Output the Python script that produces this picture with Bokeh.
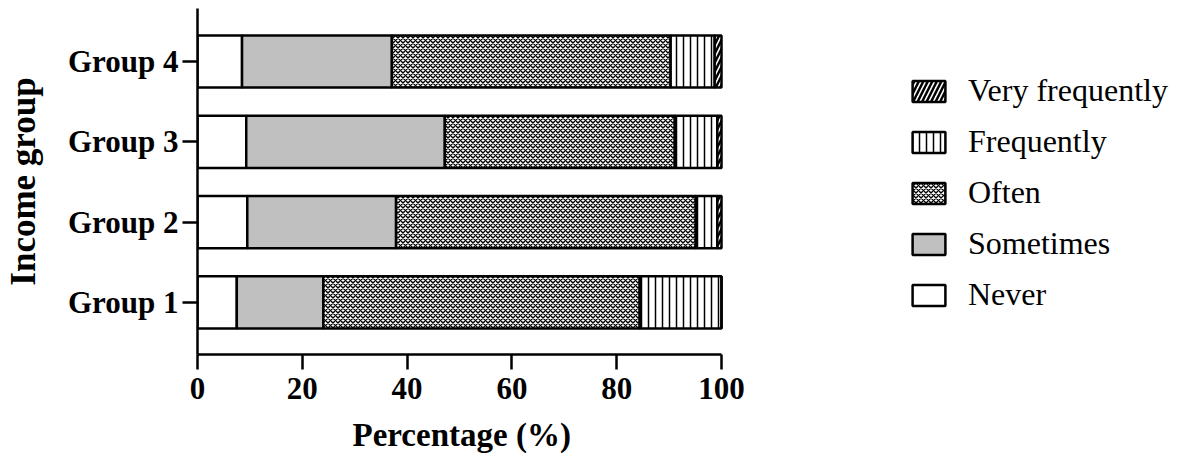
from bokeh.plotting import figure
from bokeh.models import Range1d, FixedTicker, Legend, LegendItem, Title
from bokeh.embed import file_html
from bokeh.resources import INLINE

groups = ["Group 1", "Group 2", "Group 3", "Group 4"]
categories = ["Never", "Sometimes", "Often", "Frequently", "Very frequently"]
never = [7.5, 9.5, 9.3, 8.5]
sometimes = [16.5, 28.4, 37.9, 28.6]
often = [60.4, 57.2, 43.9, 53.2]
frequently = [15.6, 4.1, 8.1, 8.4]
very_frequently = [0.0, 0.8, 0.8, 1.3]
x_ticks = [0, 20, 40, 60, 80, 100]

series = [never, sometimes, often, frequently, very_frequently]

FONT = "Liberation Serif"

FRAME_W = 973
PX_PER_UNIT = 5.24

p = figure(frame_width=FRAME_W, frame_height=346, output_backend="svg", toolbar_location=None,
           x_range=Range1d(0, FRAME_W / PX_PER_UNIT), y_range=Range1d(0.352, 4.66),
           min_border_left=192, min_border_right=0, min_border_top=8, min_border_bottom=4)

styles = {
    "Never": dict(fill_color="white"),
    "Sometimes": dict(fill_color="#c0c0c0"),
    "Often": dict(fill_color="white", hatch_pattern="diagonal_cross", hatch_color="black",
                  hatch_scale=5, hatch_weight=1.4),
    "Frequently": dict(fill_color="white", hatch_pattern="vertical_line", hatch_color="black",
                       hatch_scale=7, hatch_weight=1.5),
    "Very frequently": dict(fill_color="white", hatch_pattern="right_diagonal_line", hatch_color="black",
                            hatch_scale=9, hatch_weight=2.5),
}

ypos = [i + 1 for i in range(len(groups))]
left = [0.0] * len(groups)
renderers = {}
for name, vals in zip(categories, series):
    right = [l + v for l, v in zip(left, vals)]
    r = p.hbar(y=ypos, left=left, right=right, height=0.65, line_color="black", line_width=2.5,
               **styles[name])
    renderers[name] = r
    left = right

items = [LegendItem(label=name, renderers=[renderers[name]]) for name in reversed(categories)]
legend = Legend(items=items, location=(711, 41), margin=0, padding=0,
                border_line_color=None, background_fill_alpha=0,
                glyph_width=41, glyph_height=26, label_height=26, spacing=14, label_standoff=19,
                label_text_font=FONT, label_text_font_size="32px", label_text_color="black")
p.add_layout(legend, "center")

p.xgrid.visible = False
p.ygrid.visible = False
p.outline_line_color = None

xa = p.xaxis[0]
xa.ticker = FixedTicker(ticks=x_ticks)
xa.bounds = (0, 100)
ya = p.yaxis[0]
ya.ticker = FixedTicker(ticks=ypos)
ya.major_label_overrides = {y: g for y, g in zip(ypos, groups)}
ya.axis_label = "Income group"

for ax in (xa, ya):
    ax.axis_line_width = 2.5
    ax.axis_line_color = "black"
    ax.major_tick_line_width = 2.5
    ax.major_tick_line_color = "black"
    ax.major_tick_out = 15
    ax.major_tick_in = 0
    ax.minor_tick_line_color = None
    ax.major_label_text_font = FONT
    ax.major_label_text_font_style = "bold"
    ax.major_label_text_font_size = "31px"
    ax.major_label_text_color = "black"
    ax.axis_label_text_font = FONT
    ax.axis_label_text_font_style = "bold"
    ax.axis_label_text_color = "black"

ya.axis_label_text_font_size = "35px"
xa.major_label_standoff = 8
ya.major_label_standoff = 4
ya.axis_label_standoff = 22

xtitle = Title(text="Percentage (%)", align="left", offset=155, standoff=27,
               text_font=FONT, text_font_style="bold", text_font_size="33px", text_color="black")
p.add_layout(xtitle, "below")

open("out.html", "w").write(file_html(p, INLINE))
